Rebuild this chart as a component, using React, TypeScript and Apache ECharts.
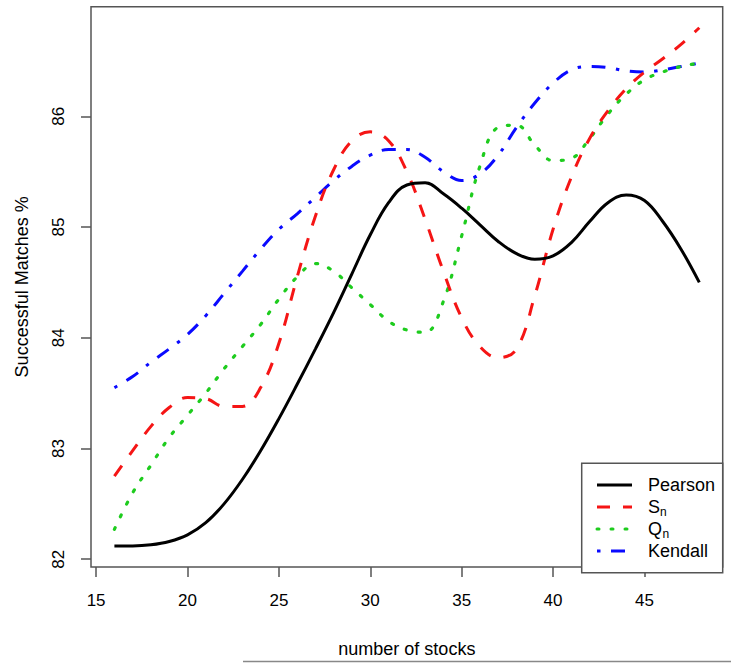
import React, { useEffect, useRef } from "react";
import * as echarts from "echarts";

const stocks = [16, 17, 18, 19, 20, 21, 22, 23, 24, 25, 26, 27, 28, 29, 30, 31, 32, 33, 34, 35, 36, 37, 38, 39, 40, 41, 42, 43, 44, 45, 46, 47, 48];

const pearson = [82.12, 82.12, 82.13, 82.16, 82.22, 82.33, 82.5, 82.72, 82.98, 83.27, 83.58, 83.9, 84.23, 84.58, 84.93, 85.22, 85.38, 85.4, 85.3, 85.17, 85.02, 84.87, 84.76, 84.71, 84.74, 84.86, 85.05, 85.22, 85.29, 85.24, 85.05, 84.8, 84.5];

const sn = [82.75, 82.98, 83.2, 83.37, 83.46, 83.45, 83.38, 83.38, 83.55, 83.95, 84.55, 85.1, 85.52, 85.78, 85.86, 85.78, 85.5, 85.07, 84.6, 84.18, 83.92, 83.82, 83.9, 84.38, 84.98, 85.45, 85.8, 86.05, 86.25, 86.4, 86.52, 86.65, 86.8];

const qn = [82.27, 82.6, 82.85, 83.1, 83.3, 83.5, 83.72, 83.92, 84.12, 84.35, 84.55, 84.67, 84.6, 84.45, 84.3, 84.15, 84.07, 84.05, 84.33, 84.92, 85.55, 85.9, 85.92, 85.74, 85.6, 85.62, 85.8, 86.02, 86.2, 86.33, 86.4, 86.45, 86.48];

const kendall = [83.55, 83.65, 83.78, 83.9, 84.03, 84.2, 84.4, 84.6, 84.8, 84.98, 85.12, 85.27, 85.42, 85.55, 85.65, 85.7, 85.7, 85.63, 85.5, 85.42, 85.48, 85.65, 85.9, 86.12, 86.3, 86.42, 86.45, 86.44, 86.41, 86.4, 86.42, 86.45, 86.48];

const xTicks = [15, 20, 25, 30, 35, 40, 45];
const yTicks = [82, 83, 84, 85, 86];

const FONT = "'Liberation Sans', Arial, Helvetica, sans-serif";

const RED = "#f51515";
const GREEN = "#1ecc1e";
const BLUE = "#0a0aff";

export default function App() {
  const ref = useRef<HTMLDivElement>(null);

  useEffect(() => {
    const chart = echarts.init(ref.current!, null, { renderer: "svg" });
    const pair = (vals: number[]) => stocks.map((x, i) => [x, vals[i]]);

    const legendItems = [
      { label: "Pearson", sub: "", subX: 0, color: "#000", dash: null as any, cap: "butt" },
      { label: "S", sub: "n", subX: 660, color: RED, dash: [13, 13], cap: "butt" },
      { label: "Q", sub: "n", subX: 662.5, color: GREEN, dash: [2, 12], cap: "round" },
      { label: "Kendall", sub: "", subX: 0, color: BLUE, dash: [3.5, 10.5, 14, 10.5], cap: "butt" },
    ];
    const lx0 = 581.7, ly0 = 463.3, lx1 = 722.7, ly1 = 572.7;
    const rowY = [485, 507, 529, 551];
    const graphics: any[] = [
      {
        type: "rect",
        shape: { x: lx0, y: ly0, width: lx1 - lx0, height: ly1 - ly0 },
        style: { fill: "#fff", stroke: "#555", lineWidth: 1.5 },
        z: 100,
      },
      {
        type: "line",
        shape: { x1: 243, y1: 661.5, x2: 731, y2: 661.5 },
        style: { stroke: "#888", lineWidth: 1.5 },
      },
    ];
    legendItems.forEach((it, i) => {
      const y = rowY[i];
      graphics.push({
        type: "line",
        shape: { x1: 597, y1: y, x2: 632, y2: y },
        style: { stroke: it.color, lineWidth: 3, lineDash: it.dash, lineCap: it.cap },
        z: 101,
      });
      graphics.push({
        type: "text",
        x: 648,
        y: y,
        style: { text: it.label, font: `18px ${FONT}`, fill: "#000", align: "left", verticalAlign: "middle" },
        z: 101,
      });
      if (it.sub) {
        graphics.push({
          type: "text",
          x: it.subX,
          y: y + 5,
          style: { text: it.sub, font: `12px ${FONT}`, fill: "#000", align: "left", verticalAlign: "middle" },
          z: 101,
        });
      }
    });

    const option: any = {
      animation: false,
      backgroundColor: "#fff",
      grid: {
        left: 91,
        top: 6.7,
        right: 8.3,
        bottom: 90.3,
        show: true,
        borderColor: "#555",
        borderWidth: 1.5,
        backgroundColor: "transparent",
      },
      xAxis: {
        type: "value",
        min: 14.72,
        max: 49.28,
        name: "number of stocks",
        nameLocation: "middle",
        nameGap: 73,
        nameTextStyle: { fontFamily: FONT, fontSize: 18, color: "#000", verticalAlign: "top" },
        axisLine: { show: false },
        splitLine: { show: false },
        axisTick: { show: true, inside: false, length: 10, customValues: xTicks, lineStyle: { color: "#555", width: 1.5 } },
        axisLabel: { customValues: xTicks, margin: 25, fontFamily: FONT, fontSize: 17, color: "#000" },
      },
      yAxis: {
        type: "value",
        min: 81.93,
        max: 86.99,
        name: "Successful Matches %",
        nameLocation: "middle",
        nameGap: 60,
        nameRotate: 90,
        nameTextStyle: { fontFamily: FONT, fontSize: 18, color: "#000" },
        axisLine: { show: false },
        splitLine: { show: false },
        axisTick: { show: true, inside: false, length: 10, customValues: yTicks, lineStyle: { color: "#555", width: 1.5 } },
        axisLabel: { customValues: yTicks, rotate: 90, margin: 24, fontFamily: FONT, fontSize: 17, color: "#000" },
      },
      series: [
        {
          name: "Pearson", type: "line", data: pair(pearson), showSymbol: false, smooth: 0.4,
          lineStyle: { color: "#000", width: 3 }, z: 4,
        },
        {
          name: "Sn", type: "line", data: pair(sn), showSymbol: false, smooth: 0.4,
          lineStyle: { color: RED, width: 3, type: [13, 13], cap: "butt" }, z: 3,
        },
        {
          name: "Qn", type: "line", data: pair(qn), showSymbol: false, smooth: 0.4,
          lineStyle: { color: GREEN, width: 3.2, type: [2, 12], cap: "round" }, z: 2,
        },
        {
          name: "Kendall", type: "line", data: pair(kendall), showSymbol: false, smooth: 0.4,
          lineStyle: { color: BLUE, width: 3, type: [3.5, 10.5, 14, 10.5], cap: "butt" }, z: 1,
        },
      ],
      graphic: graphics,
    };
    chart.setOption(option);
    return () => chart.dispose();
  }, []);

  return (
    <div
      ref={ref}
      style={{ position: "absolute", left: 0, top: 0, width: 731, height: 663, background: "#fff" }}
    />
  );
}
